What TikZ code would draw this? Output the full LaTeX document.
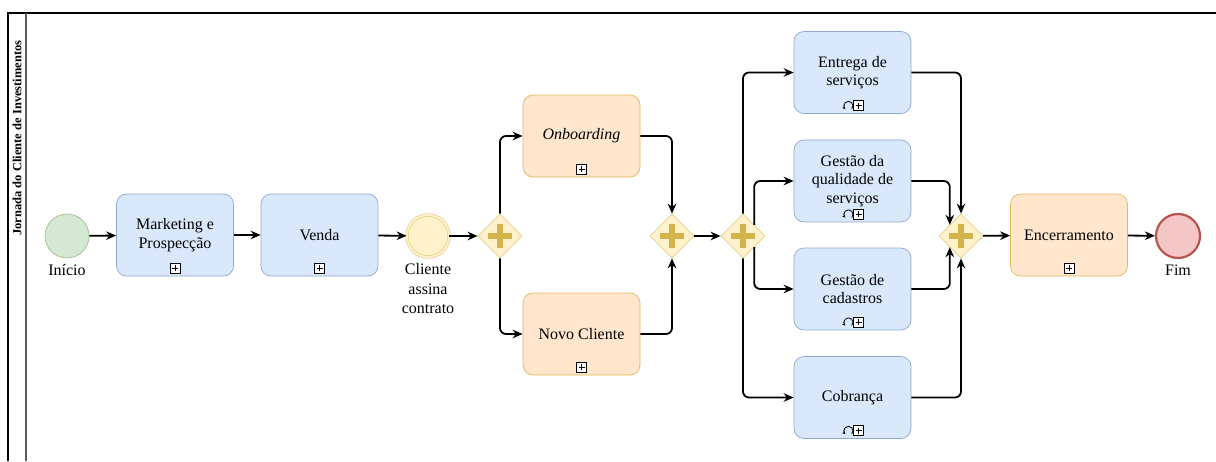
\documentclass[tikz,border=0pt]{standalone}
\usepackage{fontspec}
\setmainfont{Liberation Serif}
\usetikzlibrary{calc,arrows.meta,positioning,shapes.geometric}
\definecolor{taskBlue}{HTML}{DAE8FC}
\definecolor{taskBlueLine}{HTML}{8EA9D0}
\definecolor{taskOrange}{HTML}{FFE6CC}
\definecolor{taskOrangeLine}{HTML}{E5B95A}
\definecolor{startGreen}{HTML}{D5E8D4}
\definecolor{startGreenLine}{HTML}{9CC48A}
\definecolor{endRed}{HTML}{F5C6C6}
\definecolor{endRedLine}{HTML}{B85450}
\definecolor{gateYellow}{HTML}{FFF2CC}
\definecolor{gateYellowLine}{HTML}{E6CD86}
\definecolor{gatePlus}{HTML}{D4B24C}
\newcommand{\SubMarker}[2]{%
  \draw[line width=0.8pt, fill=white] ($(#1.south)+(#2-5,-13)$) rectangle ++(10,10);
  \draw[line width=0.8pt] ($(#1.south)+(#2-3,-8)$) -- ++(6,0) ($(#1.south)+(#2,-11)$) -- ++(0,6);}
\newcommand{\LoopMarker}[1]{%
  \draw[line width=0.8pt, -{Stealth[length=3pt,width=3pt]}] ($(#1.south)+(-4,-8)+(45:4.5)$) arc[start angle=45, end angle=-225, radius=4.5];}
\newcommand{\GatePlus}[1]{%
  \draw[gatePlus, line width=5.5pt] ($(#1)+(-12,0)$) -- ($(#1)+(12,0)$) ($(#1)+(0,-12)$) -- ($(#1)+(0,12)$);}
\tikzset{
  taskbox/.style={rectangle, rounded corners=10pt, line width=0.7pt, minimum width=117pt,
    minimum height=82pt, align=center, inner sep=2pt, font=\fontsize{16}{18.5}\selectfont},
  bluetask/.style={taskbox, draw=taskBlueLine, fill=taskBlue},
  orangetask/.style={taskbox, draw=taskOrangeLine, fill=taskOrange},
  gateway/.style={diamond, aspect=1, minimum size=44pt, inner sep=0pt, draw=gateYellowLine,
    fill=gateYellow, line width=0.7pt},
  evtlabel/.style={align=center, inner sep=0pt, font=\fontsize{16}{19.5}\selectfont},
  flow/.style={-{Stealth[length=10pt,width=8.5pt]}, line width=1.8pt, rounded corners=6pt}
}
\begin{document}
\begin{tikzpicture}[x=1pt,y=-1pt]
\useasboundingbox (0,0) rectangle (1216,461);
% pool
\draw[line width=1.2pt] (8,461) |- (1216,13);
\draw[line width=1.2pt, black!65] (26,13) -- (26,461);
\node[rotate=90, font=\fontsize{12.5}{14}\selectfont\bfseries] (poolLabel) at (17,138) {Jornada do Cliente de Investimentos};
% events
\node[circle, minimum size=44pt, draw=startGreenLine, fill=startGreen, line width=0.7pt] (start) at (67,236) {};
\node[evtlabel, below=6pt of start] (startLabel) {Início};
\node[circle, minimum size=42pt, draw=gateYellowLine, double=gateYellow, double distance=2pt, fill=gateYellow, line width=0.7pt] (signed) at (428,236) {};
\node[evtlabel, below=6pt of signed] (signedLabel) {Cliente\\assina\\contrato};
\node[circle, minimum size=44pt, draw=endRedLine, fill=endRed, line width=2.2pt] (finish) at (1178,236) {};
\node[evtlabel, below=6pt of finish] (finishLabel) {Fim};
% tasks
\node[bluetask] (marketing) at (175,235) {Marketing e\\Prospecção};
\node[bluetask] (venda) at (319.5,235) {Venda};
\node[orangetask] (onboarding) at (581.5,136) {\textit{Onboarding}};
\node[orangetask] (novo) at (581.5,334) {Novo Cliente};
\node[bluetask] (entrega) at (852.5,72.5) {Entrega de\\serviços};
\node[bluetask] (qualidade) at (852.5,181) {Gestão da\\qualidade de\\serviços};
\node[bluetask] (cadastros) at (852.5,289) {Gestão de\\cadastros};
\node[bluetask] (cobranca) at (852.5,397.5) {Cobrança};
\node[orangetask] (encerra) at (1069,235) {Encerramento};
\foreach \t in {marketing,venda,onboarding,novo,encerra} {\SubMarker{\t}{0}}
\foreach \t in {entrega,qualidade,cadastros,cobranca} {\SubMarker{\t}{6}\LoopMarker{\t}}
% gateways
\node[gateway] (gwA) at (500,236) {};
\node[gateway] (gwB) at (672,236) {};
\node[gateway] (gwC) at (743,236) {};
\node[gateway] (gwD) at (961,236) {};
\foreach \g in {gwA,gwB,gwC,gwD} {\GatePlus{\g}}
% flows
\draw[flow] (start) -- (marketing);
\draw[flow] (marketing) -- (venda);
\draw[flow] (venda) -- (signed);
\draw[flow] (signed) -- (gwA);
\draw[flow] (gwA.north) |- (onboarding.west);
\draw[flow] (gwA.south) |- (novo.west);
\draw[flow] (onboarding.east) -| (gwB.north);
\draw[flow] (novo.east) -| (gwB.south);
\draw[flow] (gwB) -- (gwC);
\draw[flow] (gwC.north) |- (entrega.west);
\draw[flow] (gwC.north east) |- (qualidade.west);
\draw[flow] (gwC.south east) |- (cadastros.west);
\draw[flow] (gwC.south) |- (cobranca.west);
\draw[flow] (entrega.east) -| (gwD.north);
\draw[flow] (qualidade.east) -| (gwD.north west);
\draw[flow] (cadastros.east) -| (gwD.south west);
\draw[flow] (cobranca.east) -| (gwD.south);
\draw[flow] (gwD) -- (encerra);
\draw[flow] (encerra) -- (finish);
\end{tikzpicture}
\end{document}
